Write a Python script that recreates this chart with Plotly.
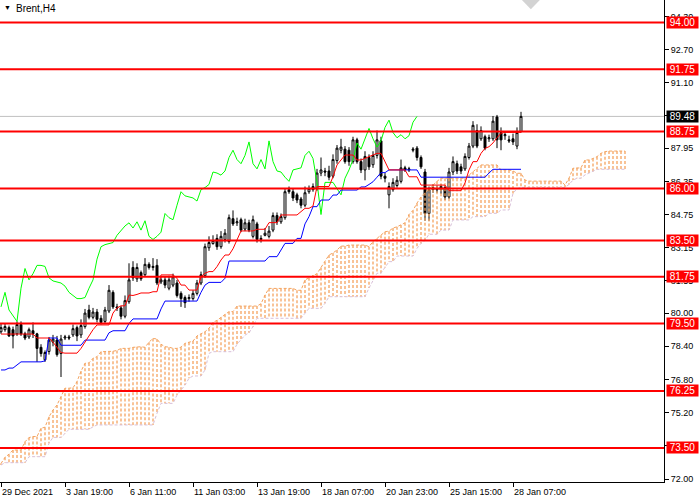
import plotly.graph_objects as go

# Brent H4, 29 Dec 2021 - 28 Jan 2022, bar index on x (one H4 bar per step)
opens = [79.10, 79.20, 79.30, 79.20, 79.00, 79.45, 79.00, 78.85, 79.15, 79.00,
         78.35, 77.75, 78.15, 78.60, 78.70, 78.05, 78.80, 78.85, 78.95, 79.30,
         78.95, 79.35, 80.15, 79.80, 80.05, 79.75, 79.60, 80.10, 81.00, 80.30,
         80.25, 79.85, 80.55, 82.20, 81.65, 81.95, 81.85, 82.35, 82.20, 82.30,
         81.50, 81.60, 81.20, 81.35, 81.45, 80.95, 80.75, 80.70, 80.70, 80.95,
         81.45, 81.80, 83.15, 83.35, 83.60, 83.20, 83.55, 83.45, 84.55, 84.35,
         84.50, 84.05, 84.35, 83.70, 84.30, 83.55, 83.75, 83.70, 84.00, 84.70,
         84.40, 84.60, 85.95, 85.85, 85.70, 85.50, 85.20, 85.85, 85.95, 86.00,
         86.75, 86.85, 86.85, 86.60, 87.35, 87.85, 87.90, 87.85, 87.30, 88.35,
         87.30, 86.90, 87.50, 87.15, 87.60, 88.30, 86.60, 85.70, 85.95, 86.15,
         86.35, 87.00, 86.90, 87.85, 87.95, 87.50, 86.80, 84.80, 85.95, 86.00,
         85.95, 86.05, 85.60, 86.80, 87.20, 87.05, 86.95, 87.50, 88.05, 88.80,
         88.40, 88.50, 88.40, 88.40, 89.45, 88.70, 88.55, 88.35, 88.40, 88.05,
         88.75]
highs = [79.50, 79.50, 79.40, 79.35, 79.60, 79.60, 79.10, 79.30, 79.55, 79.05,
         78.50, 78.20, 78.85, 78.95, 78.90, 78.95, 78.95, 78.95, 79.45, 79.40,
         79.70, 80.20, 80.40, 80.25, 80.20, 79.90, 80.30, 81.35, 81.10, 80.45,
         80.35, 80.85, 82.40, 82.50, 82.40, 82.05, 82.65, 82.45, 82.65, 82.60,
         81.75, 81.75, 81.80, 81.90, 81.60, 81.05, 80.85, 80.90, 81.10, 81.60,
         82.00, 83.35, 83.70, 83.75, 83.80, 83.95, 84.05, 84.75, 84.95, 84.60,
         84.60, 84.55, 84.50, 84.70, 84.40, 83.75, 84.10, 84.20, 84.85, 84.85,
         84.80, 86.00, 86.10, 86.00, 85.80, 85.60, 86.10, 86.15, 86.25, 86.95,
         87.50, 87.00, 87.10, 87.65, 88.10, 88.40, 88.05, 88.00, 88.50, 88.45,
         87.45, 87.80, 87.65, 87.80, 88.80, 88.50, 86.75, 86.30, 86.50, 86.60,
         87.40, 87.10, 87.05, 88.00, 88.05, 87.60, 86.95, 86.10, 86.20, 86.15,
         86.20, 86.15, 87.00, 87.55, 87.35, 87.20, 87.70, 88.20, 89.25, 89.10,
         89.00, 88.60, 88.60, 89.50, 89.55, 88.95, 88.75, 88.55, 88.65, 88.95,
         89.70]
lows = [79.00, 79.10, 78.85, 78.30, 78.90, 78.90, 78.70, 78.75, 78.80, 77.65,
        77.90, 77.65, 78.00, 78.40, 77.90, 76.92, 78.70, 78.70, 78.85, 78.65,
        78.80, 79.25, 79.70, 79.70, 79.55, 79.45, 79.50, 80.00, 80.20, 80.10,
        79.70, 79.75, 80.45, 81.55, 81.50, 81.55, 81.75, 82.10, 82.05, 81.35,
        81.40, 81.20, 81.10, 81.25, 80.75, 80.30, 80.25, 80.55, 80.60, 80.85,
        81.35, 81.70, 83.00, 83.30, 83.05, 83.10, 83.40, 83.35, 84.20, 84.20,
        83.90, 83.95, 83.90, 83.60, 83.40, 83.40, 83.70, 83.60, 83.90, 84.25,
        84.30, 84.50, 85.75, 85.40, 85.30, 85.05, 85.10, 85.75, 85.85, 85.90,
        86.60, 86.60, 86.40, 86.50, 87.20, 87.70, 87.20, 87.10, 87.20, 87.20,
        86.75, 86.40, 86.90, 87.00, 87.45, 86.45, 86.30, 85.05, 85.85, 86.05,
        86.25, 86.80, 86.80, 87.75, 87.35, 86.95, 84.45, 84.45, 85.80, 85.80,
        85.75, 85.45, 85.50, 86.65, 86.70, 86.70, 86.85, 87.40, 87.95, 87.95,
        88.30, 87.85, 88.25, 88.30, 87.95, 87.85, 88.35, 88.20, 88.10, 87.90,
        88.70]
closes = [79.30, 79.35, 78.90, 78.90, 79.45, 79.00, 78.80, 79.20, 79.00, 78.30,
          78.05, 78.10, 78.70, 78.75, 78.00, 78.75, 78.85, 78.80, 79.25, 78.90,
          79.40, 80.00, 79.80, 80.05, 79.70, 79.55, 80.15, 81.10, 80.30, 80.25,
          79.85, 80.60, 81.60, 81.70, 82.20, 81.65, 82.35, 82.20, 82.25, 81.45,
          81.60, 81.35, 81.60, 81.75, 80.85, 80.70, 80.50, 80.75, 80.95, 81.45,
          81.85, 83.20, 83.40, 83.50, 83.20, 83.70, 83.85, 84.60, 84.30, 84.40,
          84.00, 84.35, 84.00, 84.50, 83.55, 83.60, 83.85, 83.95, 84.70, 84.40,
          84.65, 85.85, 85.85, 85.55, 85.45, 85.20, 85.80, 86.00, 86.10, 86.75,
          86.90, 86.80, 86.55, 87.40, 87.95, 88.00, 87.30, 87.30, 88.35, 87.30,
          86.90, 87.55, 87.05, 87.60, 88.35, 86.60, 86.50, 86.10, 86.30, 86.40,
          87.00, 86.90, 86.95, 87.90, 87.50, 87.05, 84.80, 85.95, 86.05, 85.95,
          86.10, 85.60, 86.80, 87.30, 86.85, 86.85, 87.55, 88.05, 89.05, 88.05,
          88.80, 87.95, 88.45, 89.25, 88.35, 88.35, 88.60, 88.30, 88.25, 88.70,
          89.48]

# Ichimoku lines
tenkan = [78.99, 78.99, 78.99, 78.99, 78.99, 78.99, 78.99, 78.99, 78.99, 78.80,
          78.80, 78.80, 78.80, 78.60, 78.35, 78.10, 78.07, 78.07, 78.07, 78.07,
          78.30, 78.60, 78.90, 79.20, 79.43, 79.43, 79.43, 79.43, 80.00, 80.25,
          80.35, 80.35, 80.87, 80.85, 80.90, 80.97, 80.97, 80.97, 81.03, 81.03,
          81.84, 81.84, 81.84, 81.84, 81.68, 81.35, 81.35, 81.11, 81.11, 81.11,
          81.75, 81.92, 82.00, 82.00, 82.24, 82.56, 82.80, 82.80, 83.10, 83.50,
          83.96, 83.96, 83.96, 83.96, 84.04, 84.04, 84.04, 84.36, 84.36, 84.36,
          84.73, 84.73, 84.73, 84.73, 84.73, 84.89, 85.05, 85.05, 85.16, 86.10,
          86.10, 86.10, 86.10, 86.57, 87.14, 87.38, 87.62, 87.62, 87.62, 87.38,
          87.38, 87.46, 87.54, 87.62, 87.70, 87.70, 87.30, 86.90, 86.90, 86.90,
          86.90, 86.90, 86.57, 86.57, 86.57, 86.17, 86.17, 86.17, 86.17, 86.17,
          86.17, 86.17, 85.90, 85.90, 85.90, 85.90, 86.27, 86.90, 87.30, 87.30,
          87.70, 87.94, 88.02, 88.20, 88.45, 88.67, 88.71, 88.71, 88.71, 88.71,
          88.71]
kijun = [77.26, 77.26, 77.35, 77.35, 77.50, 77.65, 77.65, 77.65, 77.65, 77.65,
         77.65, 77.70, 78.80, 78.80, 78.80, 78.45, 78.45, 78.45, 78.45, 78.45,
         78.45, 78.70, 78.70, 78.70, 78.70, 78.70, 78.70, 79.05, 79.15, 79.15,
         79.15, 79.15, 79.50, 79.72, 79.72, 79.72, 79.72, 79.72, 79.72, 79.72,
         80.20, 80.58, 80.58, 80.58, 80.58, 80.58, 80.58, 80.58, 80.58, 80.58,
         81.00, 81.35, 81.48, 81.48, 81.48, 81.48, 81.68, 82.51, 82.51, 82.51,
         82.51, 82.51, 82.51, 82.51, 82.51, 82.51, 82.51, 82.72, 82.72, 82.72,
         83.04, 83.36, 83.36, 83.36, 83.60, 83.60, 84.30, 84.65, 85.13, 85.13,
         85.45, 85.45, 85.45, 85.69, 85.69, 85.93, 85.93, 85.93, 85.93, 85.93,
         86.08, 86.08, 86.20, 86.33, 86.55, 86.77, 86.77, 86.90, 86.90, 86.90,
         86.90, 86.90, 86.90, 86.90, 86.90, 86.55, 86.55, 86.55, 86.55, 86.55,
         86.55, 86.55, 86.55, 86.55, 86.55, 86.55, 86.55, 86.55, 86.55, 86.55,
         86.55, 86.55, 86.75, 86.93, 86.93, 86.93, 86.93, 86.93, 86.93, 86.93,
         86.93]
chikou = [80.30, 81.00, 80.15, 79.85, 79.60, 81.20, 82.15, 81.60, 81.90, 82.30,
          82.30, 82.25, 81.70, 81.55, 81.50, 81.45, 81.30, 81.00, 80.85, 80.70,
          80.70, 80.75, 81.20, 81.60, 82.60, 83.20, 83.30, 83.35, 83.40, 83.75,
          84.00, 84.20, 84.35, 84.10, 84.40, 84.00, 84.45, 83.70, 83.55, 83.70,
          83.90, 84.80, 84.60, 84.50, 85.20, 85.85, 85.65, 85.60, 85.55, 85.40,
          85.95, 86.05, 86.20, 86.80, 86.75, 86.65, 86.85, 87.50, 87.85, 87.40,
          87.20, 87.60, 88.25, 87.20, 86.95, 87.40, 86.95, 88.30, 87.30, 86.85,
          86.80, 86.55, 86.35, 86.90, 86.95, 87.00, 87.60, 87.80, 87.45, 86.30,
          84.75, 86.30, 86.30, 86.30, 86.00, 85.70, 86.50, 86.90, 87.40, 88.20,
          87.90, 88.40, 88.90, 88.40, 88.00, 88.30, 88.95, 89.30, 88.70, 88.45,
          88.60, 88.40, 88.55, 89.20, 89.48]
senkou_a = [72.75, 73.05, 73.20, 73.40, 73.40, 73.40, 73.80, 74.00, 74.05, 74.05,
            74.45, 74.50, 75.00, 75.33, 75.57, 75.97, 76.38, 76.38, 76.40, 76.70,
            77.20, 77.58, 77.60, 77.82, 77.90, 78.14, 78.14, 78.14, 78.16, 78.20,
            78.30, 78.30, 78.30, 78.35, 78.38, 78.38, 78.35, 78.60, 78.78, 78.75,
            78.50, 78.38, 78.36, 78.30, 78.30, 78.36, 78.54, 78.60, 78.65, 78.90,
            79.00, 79.10, 79.27, 79.55, 79.65, 79.80, 79.95, 80.07, 80.07, 80.34,
            80.34, 80.34, 80.34, 80.34, 80.34, 80.45, 80.87, 81.19, 81.19, 81.19,
            81.19, 81.19, 81.19, 81.19, 81.10, 81.10, 81.60, 81.70, 81.84, 81.90,
            82.20, 82.48, 82.80, 82.90, 83.04, 83.23, 83.23, 83.28, 83.28, 83.28,
            83.28, 83.28, 83.20, 83.45, 83.60, 83.75, 83.92, 83.95, 84.10, 84.16,
            84.25, 84.35, 84.75, 84.95, 85.30, 85.60, 85.80, 86.00, 86.20, 86.35,
            86.50, 86.50, 86.50, 86.50, 86.50, 86.50, 86.50, 86.65, 86.81, 86.95,
            87.14, 87.14, 87.14, 87.14, 87.14, 86.90, 86.90, 86.90, 86.85, 86.74,
            86.74, 86.41, 86.36, 86.36, 86.36, 86.36, 86.36, 86.36, 86.36, 86.36,
            86.36, 86.17, 86.50, 86.98, 87.00, 87.00, 87.38, 87.38, 87.45, 87.54,
            87.70, 87.78, 87.81, 87.81, 87.81, 87.81, 87.81]
senkou_b = [72.68, 72.79, 72.79, 72.79, 72.79, 72.79, 72.79, 73.08, 73.08, 73.08,
            73.08, 73.08, 73.73, 74.01, 74.01, 74.01, 74.20, 74.40, 74.40, 74.40,
            74.40, 74.40, 74.40, 74.52, 74.61, 74.61, 74.61, 74.61, 74.61, 74.61,
            74.61, 74.61, 74.61, 74.61, 74.61, 74.61, 74.61, 74.61, 74.61, 75.17,
            75.65, 75.65, 75.65, 75.65, 76.05, 76.30, 76.53, 76.86, 76.97, 76.97,
            76.97, 77.26, 78.06, 78.14, 78.14, 78.14, 78.14, 78.14, 78.14, 78.50,
            78.70, 78.94, 79.05, 79.35, 79.75, 79.75, 79.75, 79.75, 79.75, 79.75,
            79.75, 79.75, 79.75, 79.75, 79.75, 79.75, 79.99, 80.23, 80.23, 80.23,
            80.23, 80.47, 80.79, 80.79, 80.79, 80.79, 80.79, 80.79, 80.79, 80.79,
            80.79, 80.79, 81.21, 81.60, 81.92, 81.92, 82.20, 82.48, 82.48, 82.75,
            82.75, 82.75, 82.75, 82.75, 83.12, 83.36, 83.50, 83.80, 83.80, 83.80,
            84.00, 84.00, 84.00, 84.49, 84.49, 84.49, 84.49, 84.49, 84.65, 84.65,
            84.65, 84.65, 84.81, 84.81, 84.81, 84.97, 84.97, 84.97, 85.77, 86.00,
            86.06, 86.06, 86.06, 86.06, 86.06, 86.06, 86.06, 86.06, 86.06, 86.06,
            86.06, 86.06, 86.20, 86.41, 86.50, 86.50, 86.66, 86.75, 86.81, 86.93,
            86.93, 86.93, 86.93, 86.93, 86.93, 86.93, 86.93]

levels = [94.00, 91.75, 88.75, 86.00, 83.50, 81.75, 79.50, 76.25, 73.50]
price_ticks = [72.00, 73.60, 75.20, 76.80, 78.40, 80.00, 81.55, 83.15,
               84.75, 86.35, 87.95, 89.50, 91.10, 92.70, 94.30]
date_bars = [0, 16, 32, 48, 64, 80, 96, 112, 128]
date_labels = ["29 Dec 2021", "3 Jan 19:00", "6 Jan 11:00", "11 Jan 03:00",
               "13 Jan 19:00", "18 Jan 07:00", "20 Jan 23:00", "25 Jan 15:00",
               "28 Jan 07:00"]

FONT = "Liberation Sans"
bars = list(range(len(closes)))
cloud_bars = list(range(len(senkou_a)))

fig = go.Figure()

# kumo hatching: one dotted vertical stroke per bar between span A and span B
hx, hy = [], []
for i in cloud_bars:
    hx += [i, i, None]
    hy += [senkou_a[i], senkou_b[i], None]
fig.add_trace(go.Scatter(x=hx, y=hy, mode="lines", hoverinfo="skip",
                         line=dict(color="#F4A460", width=1.3, dash="3px,2px")))
fig.add_trace(go.Scatter(x=cloud_bars, y=senkou_a, mode="lines",
                         line=dict(color="#F4A460", width=1, dash="3px,2px")))
fig.add_trace(go.Scatter(x=cloud_bars, y=senkou_b, mode="lines",
                         line=dict(color="#D8BFD8", width=1, dash="3px,2px")))

fig.add_trace(go.Candlestick(
    x=bars, open=opens, high=highs, low=lows, close=closes,
    increasing=dict(line=dict(color="black", width=1), fillcolor="white"),
    decreasing=dict(line=dict(color="black", width=1), fillcolor="black"),
    whiskerwidth=0))

fig.add_trace(go.Scatter(x=list(range(len(chikou))), y=chikou, mode="lines",
                         line=dict(color="#00FF00", width=1)))
fig.add_trace(go.Scatter(x=bars, y=kijun, mode="lines",
                         line=dict(color="#0000FF", width=1)))
fig.add_trace(go.Scatter(x=bars, y=tenkan, mode="lines",
                         line=dict(color="#FF0000", width=1)))

shapes = [dict(type="line", xref="paper", x0=0, x1=1, yref="y",
               y0=closes[-1], y1=closes[-1], layer="below",
               line=dict(color="#C0C0C0", width=1))]
annotations = []
for lv in levels:
    shapes.append(dict(type="line", xref="paper", x0=0, x1=1, yref="y",
                       y0=lv, y1=lv, layer="above",
                       line=dict(color="#FF0000", width=2)))
    annotations.append(dict(xref="paper", x=1, xanchor="left", xshift=2,
                            yref="y", y=lv, text=f"{lv:.2f}", showarrow=False,
                            bgcolor="#FF0000", width=31, height=11, borderpad=0,
                            font=dict(family=FONT, size=10, color="white")))
annotations.append(dict(xref="paper", x=1, xanchor="left", xshift=2,
                        yref="y", y=closes[-1], text=f"{closes[-1]:.2f}",
                        showarrow=False, bgcolor="black", width=31, height=11,
                        borderpad=0, font=dict(family=FONT, size=10, color="white")))
for b, lab in zip(date_bars, date_labels):
    annotations.append(dict(xref="x", x=b, xanchor="left", xshift=-1,
                            yref="paper", y=0, yanchor="top", yshift=-3,
                            text=lab, showarrow=False,
                            font=dict(family=FONT, size=9, color="black")))
annotations.append(dict(xref="paper", x=0, xanchor="left", xshift=2,
                        yref="paper", y=1, yanchor="top", yshift=-2,
                        text="▼", showarrow=False,
                        font=dict(family=FONT, size=7, color="black")))
annotations.append(dict(xref="paper", x=0, xanchor="left", xshift=14,
                        yref="paper", y=1, yanchor="top", yshift=-1,
                        text="Brent,H4", showarrow=False,
                        font=dict(family=FONT, size=10, color="black")))
# chart-shift marker at the top edge
shapes.append(dict(type="path", xref="paper", yref="paper",
                   path="M 0.786 1 L 0.813 1 L 0.7995 0.981 Z",
                   fillcolor="#D3D3D3", line=dict(width=0)))

fig.update_layout(
    width=700, height=500,
    margin=dict(l=0, r=36, t=0, b=18),
    paper_bgcolor="white", plot_bgcolor="white",
    showlegend=False,
    shapes=shapes, annotations=annotations,
    xaxis=dict(range=[-0.25, 165.75], rangeslider=dict(visible=False),
               showgrid=False, zeroline=False, showline=True,
               linecolor="black", linewidth=1, ticks="outside", ticklen=4,
               tickcolor="black", tickvals=date_bars, showticklabels=False),
    yaxis=dict(side="right", range=[71.86, 95.09], showgrid=False,
               zeroline=False, showline=True, linecolor="black", linewidth=1,
               ticks="outside", ticklen=4, tickcolor="black",
               tickvals=price_ticks, ticktext=[f"{v:.2f}" for v in price_ticks],
               tickfont=dict(family=FONT, size=9, color="black")),
)

# drop the page's default body margin so the chart sits at the window's corner
fig.write_html("out.html",
               config={"displayModeBar": False},
               post_script="document.body.style.margin='0';"
                           "document.body.style.overflow='hidden';")
